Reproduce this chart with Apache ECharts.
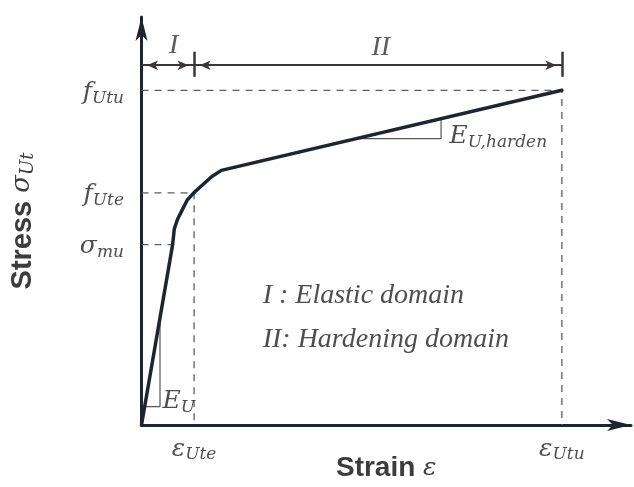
<!DOCTYPE html>
<html>
<head>
<meta charset="utf-8">
<script src="https://cdn.jsdelivr.net/npm/echarts@6/dist/echarts.min.js"></script>
<style>
  html, body { margin: 0; padding: 0; background: #fff; }
  #chart { width: 634px; height: 487px; }
</style>
</head>
<body>
<div id="chart"></div>
<script>
// Schematic stress–strain law: elastic branch, rounded transition, linear hardening.
const strainMax = 10;
const stressMax = 10;

const curveStrain = [0, 0.636, 0.670, 0.736, 0.835, 0.934, 1.068, 1.233, 1.431, 1.630, 8.588];
const curveStress = [0, 4.421, 4.806, 5.043, 5.279, 5.515, 5.690, 5.870, 6.083, 6.241, 8.203];

// Characteristic points
const epsUte = 1.074;
const epsUtu = 8.588;
const fUte = 5.69;
const fUtu = 8.203;
const sigmaMu = 4.421;
const epsSigmaMu = 0.636;

// Axis tick annotations (italic symbol + subscript)
const yTickValues = [fUtu, fUte, sigmaMu];
const yTickMain = ['f', 'f', 'σ'];
const yTickSub = ['Utu', 'Ute', 'mu'];
const xTickValues = [epsUte, epsUtu];
const xTickMain = ['ε', 'ε'];
const xTickSub = ['Ute', 'Utu'];

// Slope triangles
const triElastic = [[0.065, 0.45], [0.378, 0.45], [0.378, 2.62]];
const triHarden = [[4.40, 7.02], [6.12, 7.02], [6.12, 7.505]];
const slopeLabelMain = ['E', 'E'];
const slopeLabelSub = ['U', 'U,harden'];

// Domain bar
const domainBarStress = 8.818;
const domainTickTop = 9.149;
const domainTickBottom = 8.534;
const domainNames = ['I', 'II'];
const domainNamePos = [[0.656, 9.29], [4.89, 9.24]];
const legendLines = ['I : Elastic domain', 'II: Hardening domain'];
const legendPos = [[2.465, 3.16], [2.465, 2.08]];

const axisColor = '#1c2530';
const guideColor = '#5e5e5e';
const mathFont = 'DejaVu Serif';

const mathRich = {
  m: { fontFamily: mathFont, fontStyle: 'italic', fontSize: 25, color: '#222' },
  s: { fontFamily: mathFont, fontStyle: 'italic', fontSize: 17, color: '#222', padding: [12, 0, 0, 0] }
};

function mathText(main, sub) {
  return '{m|' + main + '}{s|' + sub + '}';
}

function guideSeries(points) {
  return {
    type: 'line', data: points, symbol: 'none', silent: true, z: 1,
    lineStyle: { color: guideColor, width: 1.3, type: [7, 6] }
  };
}

function triSeries(points) {
  return {
    type: 'line', data: points, symbol: 'none', silent: true, z: 2,
    lineStyle: { color: '#555', width: 1.2 }
  };
}

function labelSeries(items) {
  return {
    type: 'scatter', symbolSize: 1, silent: true, z: 5,
    itemStyle: { color: 'transparent' },
    data: items
  };
}

const curveData = curveStrain.map((x, i) => [x, curveStress[i]]);

const yTickItems = yTickValues.map((v, i) => ({
  value: [0, v],
  label: { show: true, position: 'left', distance: 17, offset: [0, 2], formatter: mathText(yTickMain[i], yTickSub[i]), rich: mathRich }
}));
const xTickItems = xTickValues.map((v, i) => ({
  value: [v, 0],
  label: { show: true, position: 'bottom', distance: 9, formatter: mathText(xTickMain[i], xTickSub[i]), rich: mathRich }
}));
const slopeItems = [
  { value: triElastic[1], label: { show: true, position: 'right', distance: 2, offset: [0, -5], formatter: mathText(slopeLabelMain[0], slopeLabelSub[0]), rich: mathRich } },
  { value: triHarden[1], label: { show: true, position: 'right', distance: 8, offset: [0, -2], formatter: mathText(slopeLabelMain[1], slopeLabelSub[1]), rich: mathRich } }
];
const domainItems = domainNames.map((n, i) => ({
  value: domainNamePos[i],
  label: { show: true, position: 'inside', formatter: n, fontFamily: 'Liberation Serif', fontStyle: 'italic', fontSize: 28, color: '#333' }
}));
const legendItems = legendLines.map((t, i) => ({
  value: legendPos[i],
  label: { show: true, position: 'right', distance: 0, formatter: t, fontFamily: 'Liberation Serif', fontStyle: 'italic', fontSize: 28, color: '#222' }
}));

const barColor = '#3d3636';
const option = {
  animation: false,
  backgroundColor: '#fff',
  grid: { left: 128, right: 3, top: 17, bottom: 47, containLabel: false },
  xAxis: {
    type: 'value', min: 0, max: strainMax,
    name: '{b|Strain }{e|ε}', nameLocation: 'middle', nameGap: 29,
    nameTextStyle: { rich: {
      b: { fontFamily: 'Liberation Sans', fontWeight: 'bold', fontSize: 28, color: '#3c3c3c' },
      e: { fontFamily: mathFont, fontStyle: 'italic', fontSize: 25, color: '#3c3c3c' }
    } },
    axisLine: { show: true, symbol: ['none', 'arrow'], symbolSize: [9, 24], lineStyle: { color: axisColor, width: 3 } },
    axisTick: { show: false }, axisLabel: { show: false }, splitLine: { show: false }
  },
  yAxis: {
    type: 'value', min: 0, max: stressMax,
    name: '{b|Stress }{e|σ}{s|Ut}', nameLocation: 'middle', nameGap: 104, nameRotate: 90,
    nameTextStyle: { rich: {
      b: { fontFamily: 'Liberation Sans', fontWeight: 'bold', fontSize: 29, color: '#3c3c3c' },
      e: { fontFamily: mathFont, fontStyle: 'italic', fontSize: 26, color: '#3c3c3c' },
      s: { fontFamily: mathFont, fontStyle: 'italic', fontSize: 18, color: '#3c3c3c', padding: [12, 0, 0, 0] }
    } },
    axisLine: { show: true, symbol: ['none', 'arrow'], symbolSize: [9, 24], lineStyle: { color: axisColor, width: 3 } },
    axisTick: { show: false }, axisLabel: { show: false }, splitLine: { show: false }
  },
  series: [
    guideSeries([[0, fUtu], [epsUtu, fUtu], [epsUtu, 0]]),
    guideSeries([[0, fUte], [epsUte, fUte], [epsUte, 0]]),
    guideSeries([[0, sigmaMu], [epsSigmaMu, sigmaMu]]),
    triSeries(triElastic),
    triSeries(triHarden),
    {
      type: 'line', data: curveData, symbol: 'none', z: 4, silent: true,
      lineStyle: { color: axisColor, width: 3.5, join: 'round', cap: 'round' }
    },
    {
      type: 'line', data: [], silent: true, z: 3,
      markLine: {
        silent: true, animation: false,
        label: { show: false },
        lineStyle: { color: barColor, width: 2, type: 'solid' },
        symbol: ['arrow', 'arrow'], symbolSize: [7, 11], symbolOffset: [[0, '50%'], [0, '50%']],
        data: [
          [{ coord: [0, domainBarStress] }, { coord: [epsUte, domainBarStress] }],
          [{ coord: [epsUte, domainBarStress] }, { coord: [epsUtu, domainBarStress] }],
          [{ coord: [epsUte, domainTickTop], symbol: 'none', lineStyle: { width: 2.5 } }, { coord: [epsUte, domainTickBottom], symbol: 'none' }],
          [{ coord: [epsUtu, domainTickTop], symbol: 'none', lineStyle: { width: 2.5 } }, { coord: [epsUtu, domainTickBottom], symbol: 'none' }]
        ]
      }
    },
    labelSeries(yTickItems),
    labelSeries(xTickItems),
    labelSeries(slopeItems),
    labelSeries(domainItems),
    labelSeries(legendItems)
  ]
};

const chart = echarts.init(document.getElementById('chart'), null, { renderer: 'canvas' });
chart.setOption(option);
</script>
</body>
</html>
